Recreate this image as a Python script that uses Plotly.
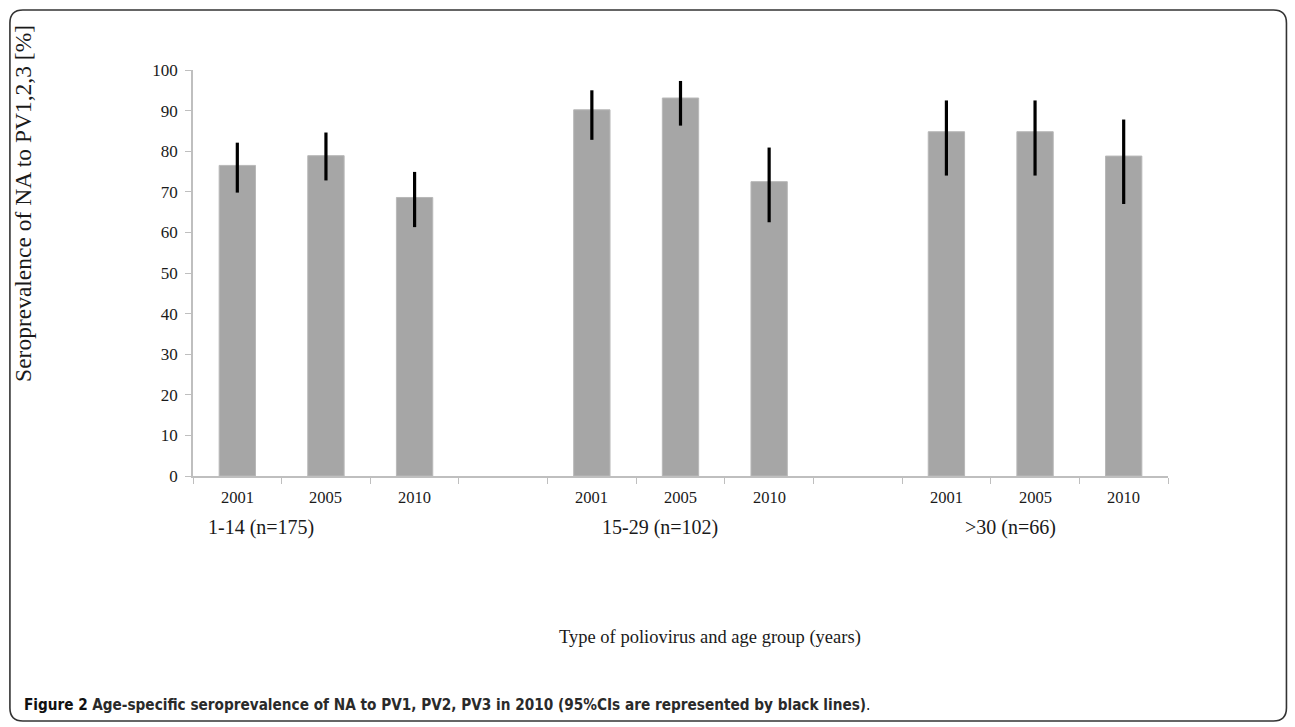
import plotly.graph_objects as go

groups = ["1-14 (n=175)", "15-29 (n=102)", ">30 (n=66)"]
years = ["2001", "2005", "2010"]
values = [[76.5, 78.9, 68.6], [90.2, 93.1, 72.5], [84.8, 84.8, 78.8]]
ci_low = [[69.8, 72.8, 61.3], [82.8, 86.3, 62.5], [74.0, 74.0, 67.0]]
ci_high = [[82.1, 84.6, 74.9], [95.0, 97.3, 80.9], [92.5, 92.5, 87.8]]
y_ticks = [0, 10, 20, 30, 40, 50, 60, 70, 80, 90, 100]

# layout constants (pixels)
W, H = 1295, 727
L, T = 193, 70
SLOT = 88.6
group_label_pos = [0.27, 4.77, 8.72]   # slot units, label centres

xs, ys, ep, em, yl = [], [], [], [], []
for g in range(len(groups)):
    for j in range(len(years)):
        xs.append(g * 4 + j)
        ys.append(values[g][j])
        ep.append(ci_high[g][j] - values[g][j])
        em.append(values[g][j] - ci_low[g][j])
        yl.append(years[j])

nslots = len(groups) * 4 - 1
pw = SLOT * nslots
ph = 476 - T
R = W - L - pw
B = H - T - ph

fig = go.Figure()
fig.add_trace(go.Bar(
    x=xs, y=ys, width=0.41,
    marker=dict(color="#a6a6a6", line=dict(color="#b8b8b8", width=1)),
    error_y=dict(type="data", array=ep, arrayminus=em, color="black",
                 thickness=3.2, width=0),
    showlegend=False, hoverinfo="skip",
))

def px(xp): return (xp - L) / pw
def py(yp): return (T + ph - yp) / ph

serif = "Liberation Serif"
C = dict(xanchor="center", yanchor="middle", showarrow=False)
ann = []
for x, t in zip(xs, yl):
    ann.append(dict(x=x, y=py(497), xref="x", yref="paper", text=t, **C,
                    font=dict(family=serif, size=16.5, color="#1a1a1a")))
for g, name in enumerate(groups):
    ann.append(dict(x=group_label_pos[g], y=py(527), xref="x", yref="paper", text=name, **C,
                    font=dict(family=serif, size=20, color="#1a1a1a")))
ann.append(dict(x=px(710), y=py(637), xref="paper", yref="paper",
                text="Type of poliovirus and age group (years)", **C,
                font=dict(family=serif, size=18.5, color="#1a1a1a")))
ann.append(dict(x=px(23), y=py(203), xref="paper", yref="paper",
                text="Seroprevalence of NA to PV1,2,3 [%]", textangle=-90, **C,
                font=dict(family=serif, size=23.5, color="#1a1a1a")))
ann.append(dict(x=px(22), y=py(705), xref="paper", yref="paper", xanchor="left",
                yanchor="middle", showarrow=False,
                text="<b>Figure 2</b> <b style='color:#2a2a2a'>Age-specific seroprevalence of NA to PV1, PV2, PV3 in 2010 (95%CIs are represented by black lines)</b>.",
                font=dict(family="DejaVu Sans Condensed", size=15.2, color="#111")))

# rounded frame
x0, y0, x1, y1, r = 10, 10, 1286, 721, 13
path = (f"M {px(x0 + r)} {py(y0)} L {px(x1 - r)} {py(y0)} "
        f"Q {px(x1)} {py(y0)} {px(x1)} {py(y0 + r)} L {px(x1)} {py(y1 - r)} "
        f"Q {px(x1)} {py(y1)} {px(x1 - r)} {py(y1)} L {px(x0 + r)} {py(y1)} "
        f"Q {px(x0)} {py(y1)} {px(x0)} {py(y1 - r)} L {px(x0)} {py(y0 + r)} "
        f"Q {px(x0)} {py(y0)} {px(x0 + r)} {py(y0)} Z")

fig.update_layout(
    width=W, height=H, margin=dict(l=L, r=R, t=T, b=B),
    paper_bgcolor="white", plot_bgcolor="white",
    annotations=ann,
    shapes=[dict(type="path", path=path, xref="paper", yref="paper",
                 line=dict(color="#333", width=1.6))],
    xaxis=dict(range=[-0.5, nslots - 0.5], tickvals=[i - 0.5 for i in range(nslots + 1)],
               ticktext=[""] * (nslots + 1), ticks="outside", ticklen=6, tickcolor="#bfbfbf",
               showline=True, linecolor="#bfbfbf", linewidth=1.5, showgrid=False,
               zeroline=False, fixedrange=True),
    yaxis=dict(range=[0, 100], tickvals=y_ticks, ticks="outside", ticklen=6,
               tickcolor="#bfbfbf", showline=True, linecolor="#bfbfbf", linewidth=1.5,
               showgrid=False, zeroline=False, ticklabelstandoff=4, fixedrange=True,
               tickfont=dict(family=serif, size=17, color="#1a1a1a")),
)
fig.write_html("out.html", config={"displayModeBar": False},
               post_script="document.body.style.margin='0';document.body.style.overflow='hidden';")
